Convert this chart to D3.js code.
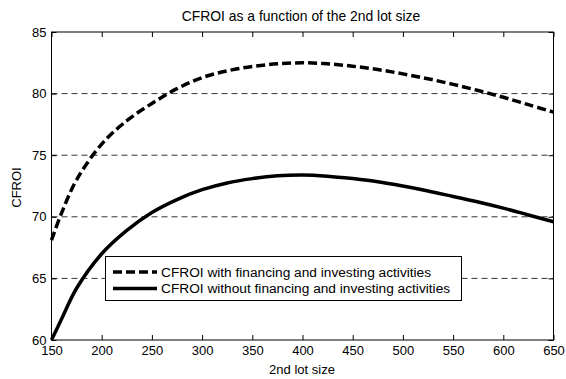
<!DOCTYPE html>
<html>
<head>
<meta charset="utf-8">
<script src="https://d3js.org/d3.v7.min.js"></script>
<style>
  body { margin: 0; background: #fff; }
  text { font-family: "Liberation Sans", Arial, sans-serif; fill: #000; }
</style>
</head>
<body>
<div id="vis"></div>
<script>
// Chart data
const lotSizes = [150, 160, 175, 200, 225, 250, 275, 300, 325, 350, 375, 400, 425, 450, 475, 500, 525, 550, 575, 600, 625, 650];
const cfroiWith = [68.1, 70.3, 73.0, 75.9, 77.8, 79.2, 80.4, 81.3, 81.85, 82.2, 82.42, 82.5, 82.42, 82.22, 81.95, 81.6, 81.2, 80.75, 80.25, 79.7, 79.1, 78.5];
const cfroiWithout = [60.0, 61.7, 64.2, 67.0, 68.9, 70.35, 71.4, 72.2, 72.75, 73.1, 73.33, 73.4, 73.3, 73.1, 72.85, 72.5, 72.1, 71.65, 71.2, 70.7, 70.15, 69.6];
const xTicks = [150, 200, 250, 300, 350, 400, 450, 500, 550, 600, 650];
const yTicks = [60, 65, 70, 75, 80, 85];
const seriesNames = ["CFROI with financing and investing activities", "CFROI without financing and investing activities"];

const W = 566, H = 379;
const plotL = 51.5, plotR = 553.5, plotT = 32, plotB = 340;

const svg = d3.select("#vis").append("svg").attr("width", W).attr("height", H);

const x = d3.scaleLinear().domain([150, 650]).range([plotL, plotR]);
const y = d3.scaleLinear().domain([60, 85]).range([plotB, plotT]);

// horizontal dashed grid
svg.append("g").selectAll("line")
  .data(yTicks.filter(d => d > 60 && d < 85))
  .enter().append("line")
  .attr("x1", plotL).attr("x2", plotR)
  .attr("y1", d => y(d)).attr("y2", d => y(d))
  .attr("stroke", "#000").attr("stroke-width", 0.8)
  .attr("stroke-dasharray", "6,4");

// axes with inward ticks
const tl = 5;
svg.append("g").attr("transform", `translate(0,${plotB})`)
  .call(d3.axisBottom(x).tickValues(xTicks).tickSize(-tl).tickPadding(6))
  .call(g => g.select(".domain").remove());
svg.append("g").attr("transform", `translate(0,${plotT})`)
  .call(d3.axisTop(x).tickValues(xTicks).tickSize(-tl).tickFormat(""))
  .call(g => g.select(".domain").remove());
svg.append("g").attr("transform", `translate(${plotL},0)`)
  .call(d3.axisLeft(y).tickValues(yTicks).tickSize(-tl).tickPadding(5))
  .call(g => g.select(".domain").remove());
svg.append("g").attr("transform", `translate(${plotR},0)`)
  .call(d3.axisRight(y).tickValues(yTicks).tickSize(-tl).tickFormat(""))
  .call(g => g.select(".domain").remove());

svg.selectAll(".tick line").attr("stroke", "#000");
svg.selectAll(".tick text").attr("font-size", 13).style("font-family", "'Liberation Sans', Arial, sans-serif");

svg.append("rect")
  .attr("x", plotL).attr("y", plotT)
  .attr("width", plotR - plotL).attr("height", plotB - plotT)
  .attr("fill", "none").attr("stroke", "#000").attr("stroke-width", 1);

// curves
const line = d3.line().x(d => x(d[0])).y(d => y(d[1])).curve(d3.curveCatmullRom.alpha(0.5));

svg.append("path")
  .datum(lotSizes.map((v, i) => [v, cfroiWith[i]]))
  .attr("d", line).attr("fill", "none")
  .attr("stroke", "#000").attr("stroke-width", 3.5)
  .attr("stroke-dasharray", "9,4");

svg.append("path")
  .datum(lotSizes.map((v, i) => [v, cfroiWithout[i]]))
  .attr("d", line).attr("fill", "none")
  .attr("stroke", "#000").attr("stroke-width", 3.5);

// legend
const lg = svg.append("g");
lg.append("rect")
  .attr("x", 105.5).attr("y", 256.5).attr("width", 356).attr("height", 44)
  .attr("fill", "#fff").attr("stroke", "#000").attr("stroke-width", 1);
seriesNames.forEach((name, i) => {
  const yy = 272 + i * 16.6;
  lg.append("line")
    .attr("x1", 113).attr("x2", 157).attr("y1", yy).attr("y2", yy)
    .attr("stroke", "#000").attr("stroke-width", 3.5)
    .attr("stroke-dasharray", i === 0 ? "9,4" : null);
  lg.append("text")
    .attr("x", 161).attr("y", yy).attr("dy", "0.35em")
    .attr("font-size", 13.7).text(name);
});

// titles
svg.append("text")
  .attr("x", 301).attr("y", 21)
  .attr("text-anchor", "middle").attr("font-size", 13.9)
  .text("CFROI as a function of the 2nd lot size");
svg.append("text")
  .attr("x", 302).attr("y", 374)
  .attr("text-anchor", "middle").attr("font-size", 13)
  .text("2nd lot size");
svg.append("text")
  .attr("transform", `translate(20.5,187.5) rotate(-90)`)
  .attr("text-anchor", "middle").attr("font-size", 13)
  .text("CFROI");
</script>
</body>
</html>
